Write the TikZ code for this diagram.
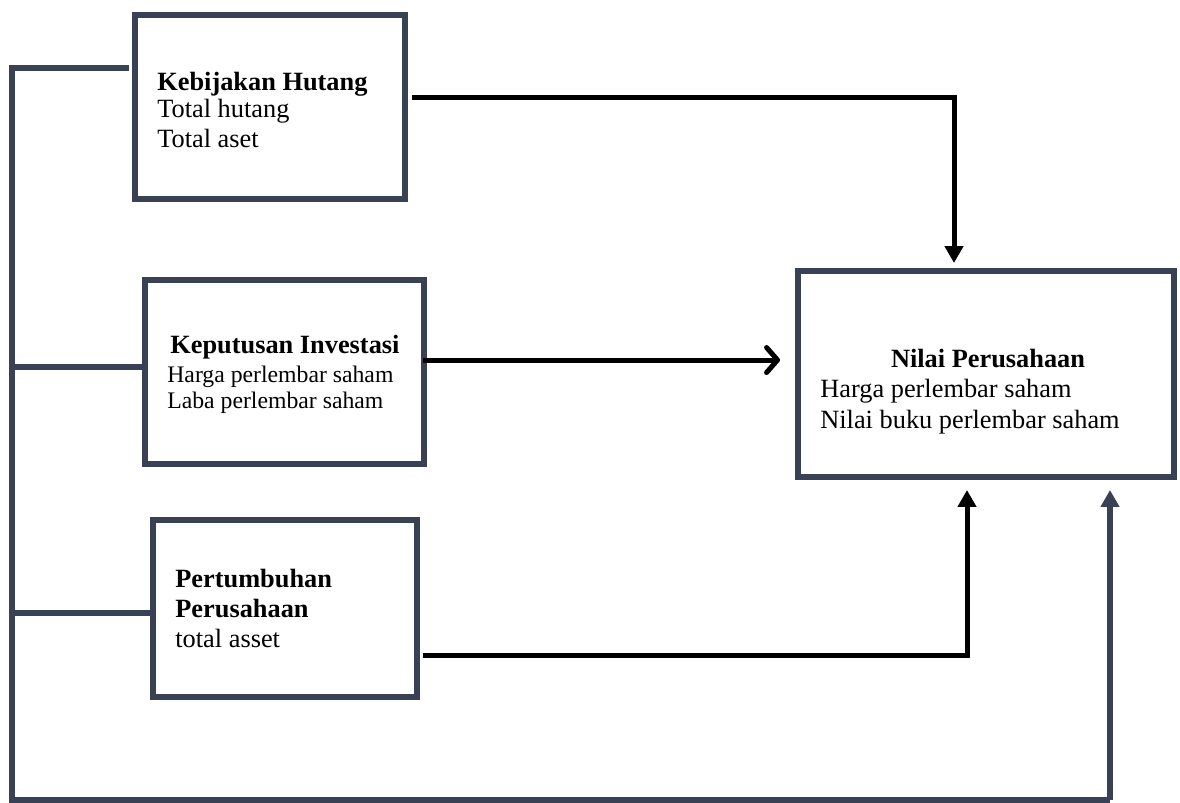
\documentclass[tikz,border=0pt]{standalone}
\usepackage{fontspec}
\setmainfont{Liberation Serif}
\usetikzlibrary{arrows.meta}
\definecolor{slate}{RGB}{56,66,84}
\tikzset{
  box/.style = {draw = slate, line width = 3.4pt, inner sep = 0pt},
  txt/.style = {inner sep = 0pt, align = left, font = \fontsize{15}{17}\selectfont},
  blk/.style = {draw = black, line width = 2.85pt},
  ret/.style = {draw = slate, line width = 3.1pt}
}
\begin{document}
\begin{tikzpicture}[x = 0.02cm, y = -0.02cm]
\useasboundingbox (0,0) rectangle (1180,802);
% boxes
\node[box, minimum width = 5.4cm, minimum height = 3.68cm] (kh) at (270,107) {};
\node[box, minimum width = 5.58cm, minimum height = 3.68cm] (ki) at (284.5,372) {};
\node[box, minimum width = 5.28cm, minimum height = 3.54cm] (pp) at (285,608.5) {};
\node[box, minimum width = 7.52cm, minimum height = 4.12cm] (np) at (986,374) {};

% texts
\node[txt, anchor = base west] (khtitle) at (157,90) {\textbf{Kebijakan Hutang}};
\node[txt, anchor = base west] (khsub) at (157,117) {Total hutang};
\node[txt, anchor = base west] (khsub2) at (157,147) {Total aset};
\node[txt, anchor = base west] (kititle) at (170,353) {\textbf{Keputusan Investasi}};
\node[txt, anchor = base west, font = \fontsize{13.5}{15.5}\selectfont] (kisub) at (167,382) {Harga perlembar saham};
\node[txt, anchor = base west, font = \fontsize{13.5}{15.5}\selectfont] (kisub2) at (167,408) {Laba perlembar saham};
\node[txt, anchor = base west] (pptitle) at (175,587) {\textbf{Pertumbuhan}};
\node[txt, anchor = base west] (pptitle2) at (175,617) {\textbf{Perusahaan}};
\node[txt, anchor = base west] (ppsub) at (175,647) {total asset};
\node[txt, anchor = base] (nptitle) at (988,367) {\textbf{Nilai Perusahaan}};
\node[txt, anchor = base west] (npsub) at (820,397) {Harga perlembar saham};
\node[txt, anchor = base west] (npsub2) at (820,428) {Nilai buku perlembar saham};

% arrows to Nilai Perusahaan
\draw[blk, -{Triangle[length = 0.34cm, width = 0.36cm]}, shorten > = 0.1cm]
   ([shift = {(4,-10)}]kh.east) -| ([xshift = -0.64cm]np.north);
\draw[blk, -{Straight Barb[length = 0.22cm, width = 0.5cm, line cap = round, line join = round]}, shorten > = 0.3cm]
   ([shift = {(-4,-12)}]ki.east) -- (np.west |- {(0,360)});
\draw[blk, -{Triangle[length = 0.34cm, width = 0.36cm]}, shorten > = 0.2cm]
   ([shift = {(3,46.5)}]pp.east) -| ([xshift = -0.38cm]np.south);

% return line on the left
\draw[ret] ([shift = {(-3,-39)}]kh.west) -- (12,68) -- (12,800) -- (1110,800) coordinate (corner);
\draw[ret, -{Triangle[length = 0.34cm, width = 0.36cm]}, shorten > = 0.2cm] (corner) -- (corner |- np.south);
\draw[ret] (12,367) -- (ki.west |- {(0,367)});
\draw[ret] (12,613) -- (pp.west |- {(0,613)});
\end{tikzpicture}
\end{document}
